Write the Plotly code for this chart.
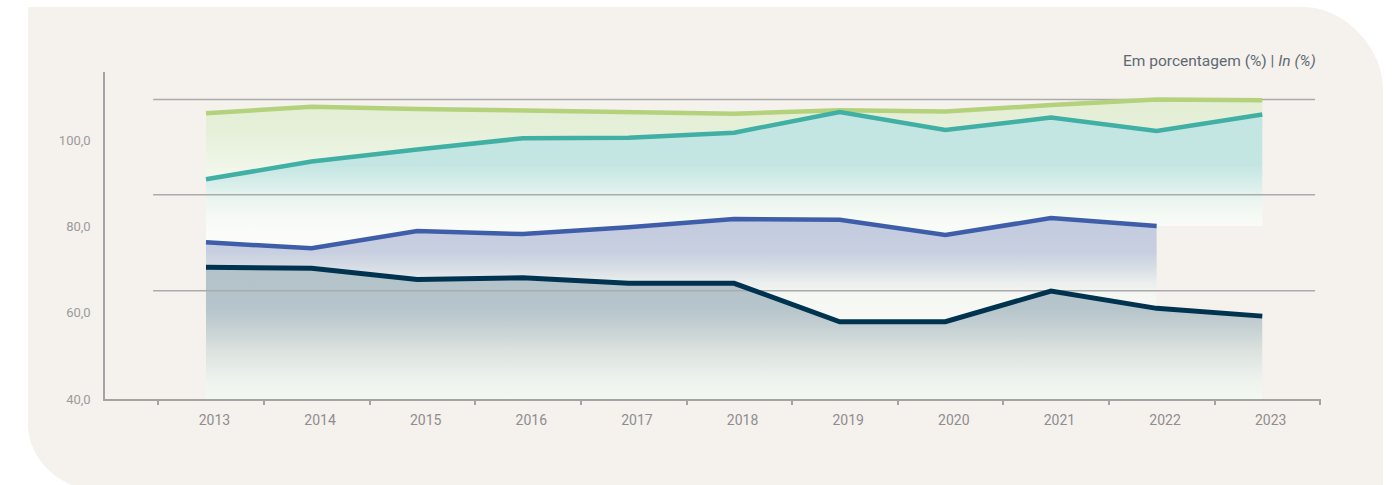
import plotly.graph_objects as go

# ---- data ----
years = ["2013", "2014", "2015", "2016", "2017", "2018", "2019", "2020", "2021", "2022", "2023"]
serie_verde = [106.2, 107.7, 107.2, 106.9, 106.5, 106.1, 106.9, 106.6, 108.1, 109.4, 109.2]
serie_turquesa = [90.9, 95.0, 97.8, 100.4, 100.5, 101.7, 106.5, 102.3, 105.2, 102.1, 105.9]
serie_azul = [76.3, 74.9, 78.9, 78.2, 79.8, 81.7, 81.5, 78.0, 81.9, 80.1]
serie_marinho = [70.5, 70.3, 67.7, 68.1, 66.8, 66.8, 57.9, 57.9, 65.0, 61.0, 59.2]
y_ticks = [40, 60, 80, 100]
grid_levels = [65.1, 87.3, 109.4]

# ---- layout geometry (pixels) ----
W, H = 1392, 485
PL, PR, PT, PB = 105, 1321, 72, 399
Y_MIN, Y_MAX = 40, 115.75
X_MIN, X_MAX = -0.956, 10.556

def px(x):
    return (x - PL) / (PR - PL)

def py(y):
    return (PB - y) / (PB - PT)

idx = list(range(len(years)))

def area(xt, yt, xb, yb, stops, lo, hi):
    scale = [[(v - lo) / (hi - lo), c] for v, c in stops]
    return go.Scatter(
        x=list(xt) + list(xb)[::-1],
        y=list(yt) + list(yb)[::-1],
        mode="lines", fill="toself",
        line=dict(width=0, color="rgba(0,0,0,0)"),
        fillgradient=dict(type="vertical", colorscale=scale, start=lo, stop=hi),
        hoverinfo="skip", showlegend=False,
    )

fig = go.Figure()

# lower edge shared by the two upper bands: the blue series, held flat into the last year
upper_base = serie_azul + [serie_azul[-1]]

fig.add_trace(area(idx, serie_verde, idx, upper_base,
                   [(78, "#FEFEFD"), (84, "#F9FBF6"), (93, "#F1F7EA"),
                    (101, "#E6F0DA"), (110, "#E3EED4")], 78, 110))
fig.add_trace(area(idx, serie_turquesa, idx, upper_base,
                   [(78, "#FBFCFA"), (82, "#F6FAF5"), (86, "#ECF5F0"),
                    (90, "#D7EEEA"), (94, "#C4E6E3"), (108, "#C2E6E3")], 78, 108))
fig.add_trace(area(idx[:10], serie_azul, idx[:10], serie_marinho[:10],
                   [(56, "#F9FAF7"), (64, "#F5F7F3"), (67, "#EAEEEC"),
                    (70, "#D9DFE6"), (74, "#C8CFE0"), (83, "#C2CADF")], 56, 83))
fig.add_trace(area(idx, serie_marinho, idx, [Y_MIN] * len(idx),
                   [(40, "#F4F8F3"), (44, "#EEF3EE"), (51, "#DCE3DF"),
                    (57, "#C4CFD2"), (61, "#B6C5CB"), (72, "#B2C2C9")], 40, 72))

# horizontal reference lines
for g in grid_levels:
    fig.add_trace(go.Scatter(x=[-0.5, 10.5], y=[g, g], mode="lines",
                             line=dict(color="#ABABAB", width=1.5),
                             hoverinfo="skip", showlegend=False))

# series lines
for vals, color, w in [(serie_verde, "#B3D27B", 4.5),
                       (serie_turquesa, "#40AFA4", 4.5),
                       (serie_azul, "#3F5EA9", 4.5),
                       (serie_marinho, "#00334F", 5)]:
    fig.add_trace(go.Scatter(x=idx[:len(vals)], y=vals, mode="lines",
                             line=dict(color=color, width=w),
                             hoverinfo="skip", showlegend=False))

# background panel with rounded corners
r1, r2 = 80, 62
x0, y0, x1, y1 = 28, 7, 1383, 600
bottom = 488
path = (
    f"M {px(x0)} {py(y0)} "
    f"L {px(x1 - r1)} {py(y0)} "
    f"C {px(x1 - r1 * 0.45)} {py(y0)} {px(x1)} {py(y0 + r1 * 0.55)} {px(x1)} {py(y0 + r1)} "
    f"L {px(x1)} {py(y1)} "
    f"L {px(x0 + r2)} {py(y1)} "
    f"L {px(x0 + r2)} {py(bottom)} "
    f"C {px(x0 + r2 * 0.45)} {py(bottom)} {px(x0)} {py(bottom - r2 * 0.55)} {px(x0)} {py(bottom - r2)} Z"
)
fig.add_shape(type="path", path=path, xref="paper", yref="paper",
              fillcolor="#F5F1ED", line=dict(width=0), layer="below")

fig.add_annotation(
    text="Em porcentagem (%) | <i>In (%)</i>",
    xref="paper", yref="paper", x=px(1318), y=py(61),
    xanchor="right", yanchor="middle", showarrow=False,
    font=dict(family="Roboto", size=15.5, color="#5D6A72"),
)

fig.update_layout(
    width=W, height=H,
    margin=dict(l=PL, r=W - PR, t=PT, b=H - PB),
    paper_bgcolor="white", plot_bgcolor="rgba(0,0,0,0)",
    separators=",.",
    font=dict(family="Roboto"),
    xaxis=dict(
        range=[X_MIN, X_MAX], tickmode="array",
        tickvals=[i + 0.08 for i in idx], ticktext=years,
        ticks="", showgrid=False, zeroline=False,
        showline=True, linecolor="#A3A3A3", linewidth=1.5,
        tickfont=dict(size=14, color="#8E8E8E"), ticklabelstandoff=7,
        minor=dict(tickmode="linear", tick0=0.55, dtick=1, ticks="outside",
                   ticklen=4, tickwidth=2, tickcolor="#A3A3A3", showgrid=False),
    ),
    yaxis=dict(
        range=[Y_MIN, Y_MAX], tickmode="array", tickvals=y_ticks,
        tickformat=".1f", ticks="", showgrid=False, zeroline=False,
        showline=True, linecolor="#A3A3A3", linewidth=1.5,
        tickfont=dict(size=13, color="#9B9B9B"), ticklabelstandoff=10,
    ),
)

fig.write_html("out.html")
